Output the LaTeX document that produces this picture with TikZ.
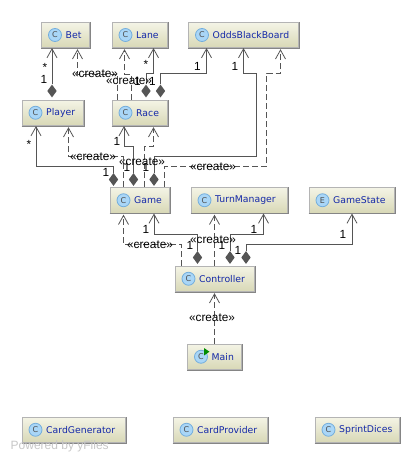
\documentclass[tikz,border=0pt]{standalone}
\usepackage{fontspec}
\setmainfont{Liberation Sans}
\newfontfamily\boxfont{DejaVu Sans}
\usetikzlibrary{arrows.meta,shapes.geometric,calc}
\definecolor{boxtop}{HTML}{F4F4E6}
\definecolor{boxbot}{HTML}{D8D8B6}
\definecolor{boxedge}{HTML}{B4B4B4}
\definecolor{boxshade}{HTML}{858585}
\definecolor{linecol}{HTML}{555555}
\definecolor{namecol}{HTML}{1428A8}
\definecolor{iconfill}{HTML}{A9D6F7}
\definecolor{iconedge}{HTML}{74AEDC}
\tikzset{
  umlbox/.style={draw=boxedge,line width=1pt,top color=boxtop,bottom color=boxbot,inner sep=0pt,anchor=north west},
  iconnode/.style={circle,draw=iconedge,line width=0.8pt,fill=iconfill,minimum size=13pt,inner sep=0pt,font=\boxfont\fontsize{8}{9}\selectfont,text=black!70},
  namenode/.style={anchor=west,inner sep=0pt,text=namecol,font=\boxfont\fontsize{9.3}{12}\selectfont},
  assoc/.style={draw=linecol,line width=1pt,-{Straight Barb[length=9pt,width=10pt,line width=0.8pt]}},
  dep/.style={draw=linecol,line width=1pt,dash pattern=on 6pt off 3pt,-{Straight Barb[length=9pt,width=10pt,line width=0.8pt,sep]}},
  dia/.style={diamond,fill=linecol,draw=none,inner sep=0pt,minimum width=9.5pt,minimum height=13pt,aspect=0.73},
  lab/.style={inner sep=0pt,text=black,font=\fontsize{11.8}{12}\selectfont},
  water/.style={inner sep=0pt,anchor=west,text=black!22,font=\fontsize{12}{12}\selectfont}
}
% name, x1, y1, x2, y2, letter, text
\newcommand{\umlclass}[7]{%
  \node[umlbox,minimum width=#4pt-#2pt,minimum height=#5pt-#3pt] (#1) at (#2,#3) {};
  \draw[boxshade,line width=1pt] (#1.south west) -- (#1.south east) -- (#1.north east);
  \node[iconnode] (#1icon) at ($(#1.west)+(14pt,0)$) {#6};
  \node[namenode] (#1name) at ($(#1.west)+(24.5pt,0)$) {#7};
}
\begin{document}
\begin{tikzpicture}[x=1pt,y=-1pt]
\useasboundingbox (0,0) rectangle (420,463);
\fill[white] (0,0) rectangle (420,463);

\umlclass{bet}{41}{22}{89}{47}{C}{Bet}
\umlclass{lane}{111.5}{22}{167}{47}{C}{Lane}
\umlclass{odds}{188}{22}{298}{47}{C}{OddsBlackBoard}
\umlclass{player}{21.5}{99.5}{83}{125}{C}{Player}
\umlclass{race}{111.5}{99.5}{167}{125}{C}{Race}
\umlclass{game}{109.5}{187}{169}{212.5}{C}{Game}
\umlclass{turn}{190.5}{187}{287}{212.5}{C}{TurnManager}
\umlclass{state}{308.5}{187}{394}{212.5}{E}{GameState}
\umlclass{ctrl}{174.5}{265.5}{254}{291}{C}{Controller}
\umlclass{main}{187}{343.5}{241}{369}{C}{Main}
\umlclass{cardgen}{21.5}{416.5}{125}{442}{C}{CardGenerator}
\umlclass{cardprov}{172.5}{416.5}{267}{442}{C}{CardProvider}
\umlclass{dices}{314.5}{416.5}{399}{442}{C}{SprintDices}
\fill[green!55!black] (204,348) -- (204,355.5) -- (209.5,351.7) -- cycle;

% diamonds
\node[dia] (d1) at (52,91) {};
\node[dia] (d2) at (146,91) {};
\node[dia] (d3) at (160.5,91) {};
\node[dia] (d4) at (113.5,179.5) {};
\node[dia] (d5) at (133.5,179.5) {};
\node[dia] (d6) at (154,179.5) {};
\node[dia] (d7) at (197.5,257.5) {};
\node[dia] (d8) at (230,257.5) {};
\node[dia] (d9) at (246,257.5) {};

% compositions
\draw[assoc] (d1.north) -- (d1.north |- bet.south);
\draw[assoc] (d2.north) |- (153.5,73.5) coordinate (a2) -- (a2 |- lane.south);
\draw[assoc] (d3.north) |- (206.5,73) coordinate (a3) -- (a3 |- odds.south);
\draw[assoc] (d4.north) |- (36,166) coordinate (a4) -- (a4 |- player.south);
\draw[assoc] (d5.north) |- (124,146) coordinate (a5) -- (a5 |- race.south);
\draw[assoc] (d6.north) |- (256.5,156) coordinate (a6) -- (256.5,73) -- (243.5,73) coordinate (b6) -- (b6 |- odds.south);
\draw[assoc] (d7.north) |- (154,234) coordinate (a7) -- (a7 |- game.south);
\draw[assoc] (d8.north) |- (263.5,234.5) coordinate (a8) -- (a8 |- turn.south);
\draw[assoc] (d9.north) |- (352,244.5) coordinate (a9) -- (a9 |- state.south);

% creates
\coordinate (c1) at (117.5,74);
\coordinate (c2) at (131,74);
\coordinate (c3) at (123.5,156.5);
\coordinate (c4) at (144.5,146.5);
\coordinate (c5) at (164.5,166.5);
\coordinate (c6) at (181.5,244);
\draw[dep] (c1 |- race.north) -- (c1) -- (77.5,74) coordinate (e1) -- (e1 |- bet.south);
\draw[dep] (c2 |- race.north) -- (c2) -- (124.5,74) coordinate (e2) -- (e2 |- lane.south);
\draw[dep] (c3 |- game.north) -- (c3) -- (68.5,156.5) coordinate (e3) -- (e3 |- player.south);
\draw[dep] (c4 |- game.north) -- (c4) -- (153.5,146.5) coordinate (e4) -- (e4 |- race.south);
\draw[dep] (c5 |- game.north) -- (c5) -- (266.5,166.5) -- (266.5,73) -- (280.5,73) coordinate (e5) -- (e5 |- odds.south);
\draw[dep] (c6 |- ctrl.north) -- (c6) -- (123.5,244) coordinate (e6) -- (e6 |- game.south);
\coordinate (c7) at (214.5,240);
\draw[dep] (c7 |- ctrl.north) -- (c7 |- turn.south);
\draw[dep] (c7 |- main.north) -- (c7 |- ctrl.south);

% labels
\node[lab] (l1) at (95,74) {«create»};
\node[lab] (l2) at (129,81) {«create»};
\node[lab] (l3) at (93,157) {«create»};
\node[lab] (l4) at (142,162) {«create»};
\node[lab] (l5) at (213,167) {«create»};
\node[lab] (l6) at (150,245) {«create»};
\node[lab] (l7) at (213,240) {«create»};
\node[lab] (l8) at (212,318) {«create»};
\node[lab] (m1) at (45,67) {*};
\node[lab] (m2) at (44,79) {1};
\node[lab] (m3) at (146,64.5) {*};
\node[lab] (m4) at (137.5,81) {1};
\node[lab] (m5) at (197.5,66) {1};
\node[lab] (m6) at (152.5,81) {1};
\node[lab] (m7) at (29,144.5) {*};
\node[lab] (m8) at (106,172) {1};
\node[lab] (m9) at (117,141) {1};
\node[lab] (m10) at (127,167) {1};
\node[lab] (m11) at (146,167) {1};
\node[lab] (m12) at (235,66) {1};
\node[lab] (m13) at (146,229) {1};
\node[lab] (m14) at (190,245) {1};
\node[lab] (m15) at (254,229) {1};
\node[lab] (m16) at (222,245) {1};
\node[lab] (m17) at (343,234) {1};
\node[lab] (m18) at (238,250) {1};
\node[water] (w) at (10.5,446.5) {Powered by yFiles};
\end{tikzpicture}
\end{document}
